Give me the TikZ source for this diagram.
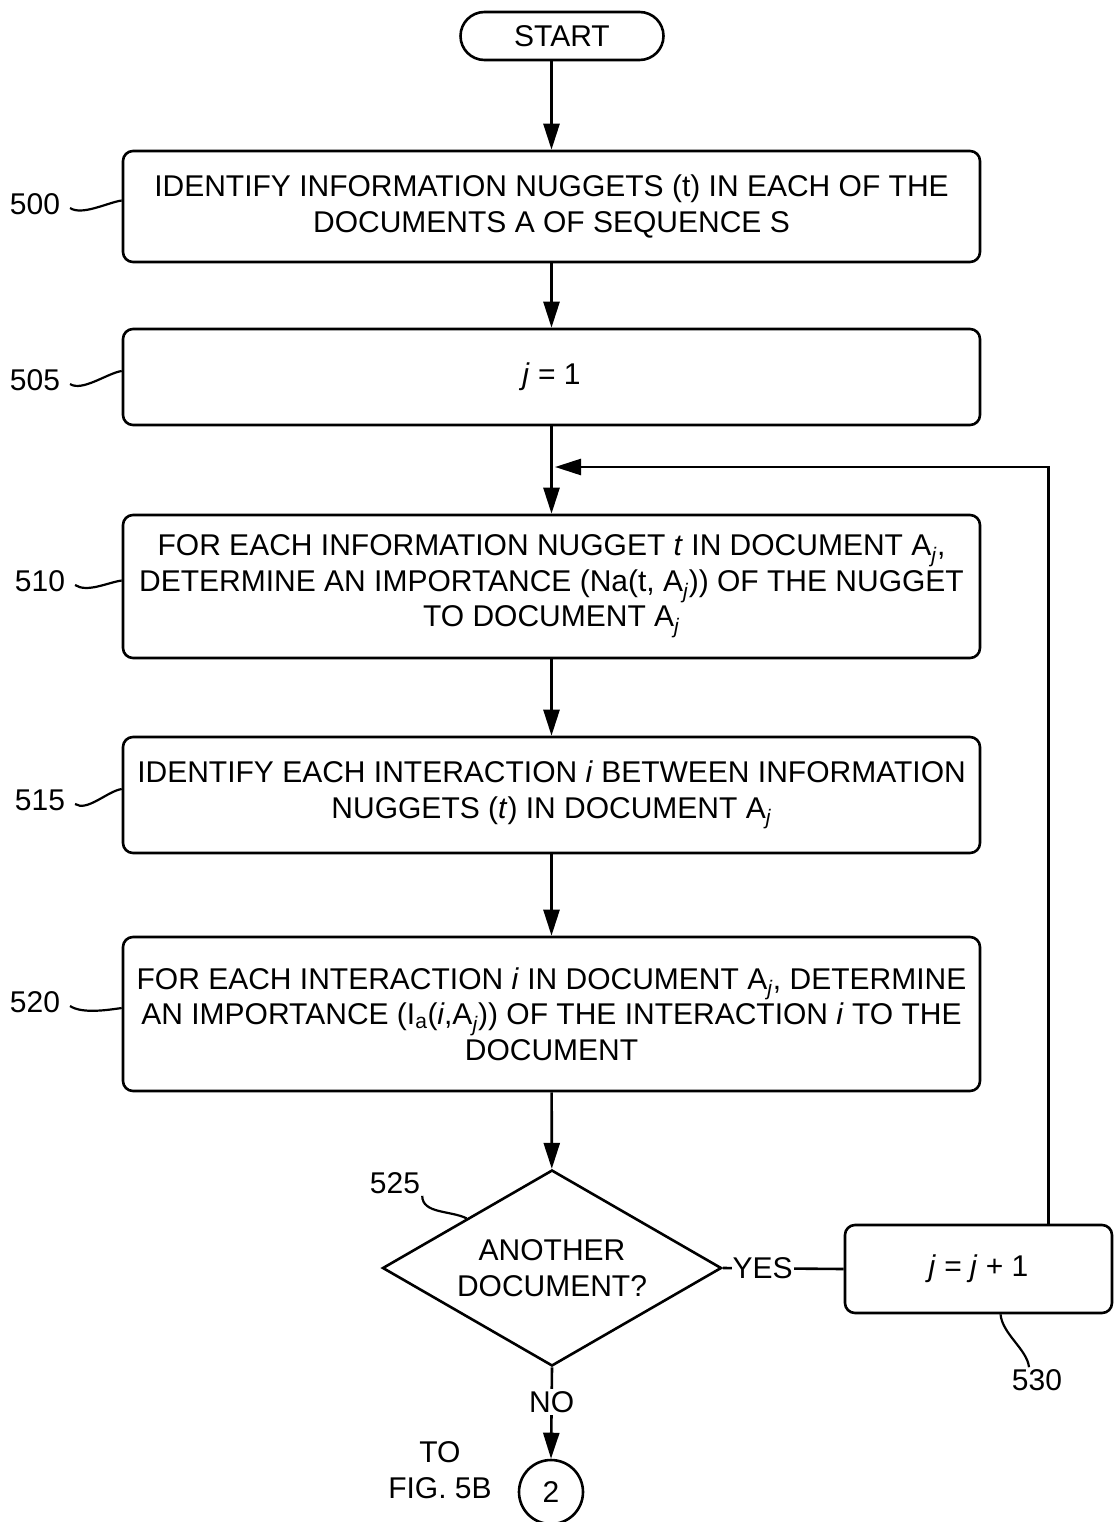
\documentclass[tikz,border=0pt]{standalone}
\usepackage{fontspec}
\setmainfont{Liberation Sans}
\usetikzlibrary{shapes.geometric,arrows.meta}

\tikzset{
  stepbox/.style={draw, line width=2.6pt, rounded corners=10pt, minimum width=857pt, align=center, inner sep=0pt},
  arr/.style={line width=2.6pt, -{Triangle[length=26pt,width=16pt]}},
  ref/.style={inner sep=0pt, outer xsep=10pt},
  squig/.style={line width=2.2pt}
}

\begin{document}
\begin{tikzpicture}[x=1pt, y=-1pt, font=\fontsize{30}{35.5}\selectfont]
 \useasboundingbox (0,0) rectangle (1114,1522);
 \node[draw, line width=2.6pt, rounded corners=24pt, minimum width=203pt, minimum height=48pt] (start) at (562,36) {START};
 \node[stepbox, minimum height=111pt] (b500) at (551.5,206.5) {IDENTIFY INFORMATION NUGGETS (t) IN EACH OF THE\\DOCUMENTS A OF SEQUENCE S};
 \node[stepbox, minimum height=96pt] (b505) at (551.5,377) {\textit{j} = 1};
 \node[stepbox, minimum height=143pt] (b510) at (551.5,586.5) {FOR EACH INFORMATION NUGGET \textit{t} IN DOCUMENT A\textsubscript{\textit{j}},\\DETERMINE AN IMPORTANCE (Na(t, A\textsubscript{\textit{j}})) OF THE NUGGET\\TO DOCUMENT A\textsubscript{\textit{j}}};
 \node[stepbox, minimum height=116pt] (b515) at (551.5,795) {IDENTIFY EACH INTERACTION \textit{i} BETWEEN INFORMATION\\NUGGETS (\textit{t}) IN DOCUMENT A\textsubscript{\textit{j}}};
 \node[stepbox, minimum height=154pt] (b520) at (551.5,1014) {FOR EACH INTERACTION \textit{i} IN DOCUMENT A\textsubscript{\textit{j}}, DETERMINE\\AN IMPORTANCE (I\textsubscript{a}(\textit{i},A\textsubscript{\textit{j}})) OF THE INTERACTION \textit{i} TO THE\\DOCUMENT};
 \node[draw, diamond, aspect=1.73, minimum width=339pt, minimum height=196pt, inner sep=0pt, line width=2.6pt, align=center] (d525) at (552,1268) {ANOTHER\\DOCUMENT?};
 \node[stepbox, minimum width=267pt, minimum height=88pt] (b530) at (978.5,1269) {\textit{j} = \textit{j} + 1};
 \node[draw, circle, line width=2.6pt, minimum size=64pt, inner sep=0pt] (c2) at (551,1492) {2};
 \node[align=center] (tofig) at (440,1470) {TO\\FIG. 5B};
 \coordinate (join) at (555,467);

 % reference numerals
 \node[ref] (l500) at (35,204) {500};
 \node[ref] (l505) at (35,380) {505};
 \node[ref] (l510) at (40,581) {510};
 \node[ref] (l515) at (40,800) {515};
 \node[ref] (l520) at (35,1002) {520};
 \node[inner sep=2pt] (l525) at (395,1183) {525};
 \node[inner sep=2pt] (l530) at (1037,1380) {530};

 % flow
 \draw[arr] (start.south -| b500.north) -- (b500.north);
 \draw[arr] (b500) -- (b505);
 \draw[arr] (b505) -- (b510);
 \draw[arr] (b510) -- (b515);
 \draw[arr] (b515) -- (b520);
 \draw[arr] (b520) -- (d525);
 \draw[line width=2.6pt] (d525.east) -- node[pos=0.33, fill=white, inner sep=1pt] {YES} (b530.west);
 \draw[arr] ([xshift=70pt]b530.north) |- (join);
 \draw[arr] (d525.south) -- node[pos=0.38, fill=white, inner sep=2pt] {NO} (c2.north);

 % leader lines
 \draw[squig] ([yshift=-4pt]l500.east) .. controls +(12,8) and +(-14,2) .. ([yshift=6pt]b500.west);
 \draw[squig] ([yshift=-4pt]l505.east) .. controls +(12,8) and +(-14,2) .. ([yshift=6pt]b505.west);
 \draw[squig] ([yshift=-4pt]l510.east) .. controls +(12,8) and +(-14,2) .. ([yshift=6pt]b510.west);
 \draw[squig] ([yshift=-4pt]l515.east) .. controls +(12,8) and +(-14,2) .. ([yshift=6pt]b515.west);
 \draw[squig] ([yshift=-4pt]l520.east) .. controls +(12,8) and +(-14,2) .. ([yshift=6pt]b520.west);
 \draw[squig] (l525.south east) .. controls +(0,18) and +(-16,-8) .. (d525.north west);
 \draw[squig] ([xshift=22pt]b530.south) .. controls +(2,20) and +(-2,-18) .. ([xshift=-8pt]l530.north);
\end{tikzpicture}
\end{document}
